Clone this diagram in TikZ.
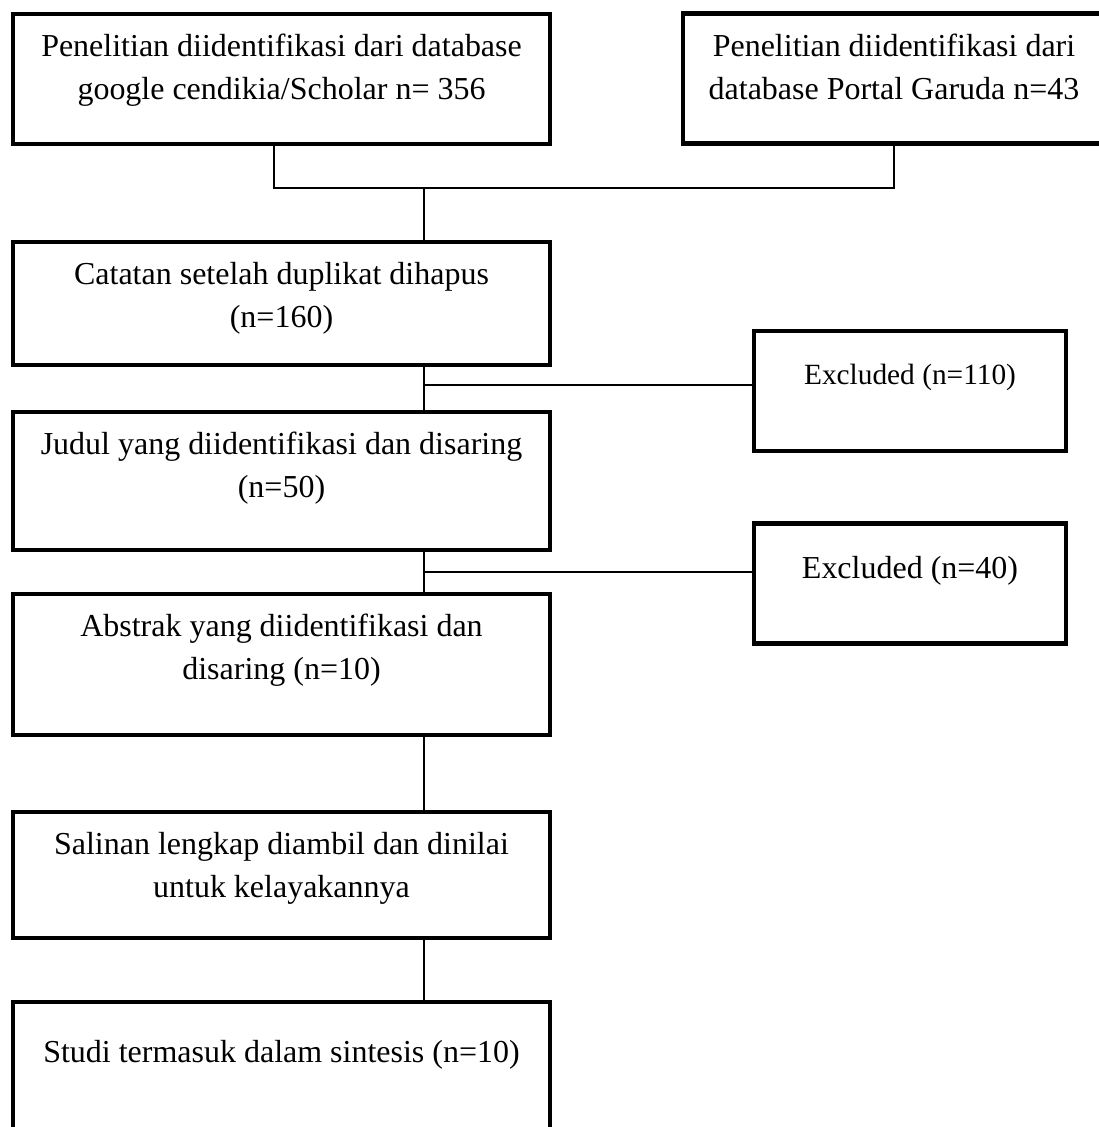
\documentclass[tikz,border=0pt]{standalone}
\usepackage{fontspec}
\setmainfont{Liberation Serif}
\tikzset{
  box/.style={draw,line width=2.3pt,minimum width=10.74cm,inner sep=0pt},
  exbox/.style={draw,line width=2.3pt,minimum width=6.24cm,minimum height=2.4cm,inner sep=0pt},
  txt/.style={anchor=north,align=center,inner sep=0pt,font=\fontsize{18.2}{24.5}\selectfont},
  link/.style={line width=0.85pt}
}
\begin{document}
\begin{tikzpicture}
\useasboundingbox (0,0) rectangle (21.98,-22.54);
\clip (0,0) rectangle (21.98,-22.54);
% boxes
\node[box,minimum height=2.6cm] (src1) at (5.63,-1.58) {};
\node[box,minimum width=8.44cm,minimum height=2.6cm] (src2) at (17.88,-1.57) {};
\node[box,minimum height=2.46cm] (dedup) at (5.63,-6.07) {};
\node[box,minimum height=2.76cm] (title) at (5.63,-9.62) {};
\node[box,minimum height=2.82cm] (abstr) at (5.63,-13.29) {};
\node[box,minimum height=2.53cm] (fulltxt) at (5.63,-17.5) {};
\node[box,minimum height=3cm] (incl) at (5.63,-21.54) {};
\node[exbox] (ex1) at (18.2,-7.82) {};
\node[exbox] (ex2) at (18.2,-11.67) {};
% texts
\node[txt] (t1) at ([yshift=-0.44cm]src1.north) {Penelitian diidentifikasi dari database\\google cendikia/Scholar n= 356};
\node[txt] (t2) at ([yshift=-0.44cm]src2.north) {Penelitian diidentifikasi dari\\database Portal Garuda n=43};
\node[txt] (t3) at ([yshift=-0.44cm]dedup.north) {Catatan setelah duplikat dihapus\\(n=160)};
\node[txt] (t4) at ([yshift=-0.44cm]title.north) {Judul yang diidentifikasi dan disaring\\(n=50)};
\node[txt] (t5) at ([yshift=-0.44cm]abstr.north) {Abstrak yang diidentifikasi dan\\disaring (n=10)};
\node[txt] (t6) at ([yshift=-0.44cm]fulltxt.north) {Salinan lengkap diambil dan dinilai\\untuk kelayakannya};
\node[txt] (t7) at ([yshift=-0.8cm]incl.north) {Studi termasuk dalam sintesis (n=10)};
\node[txt,font=\fontsize{16.7}{22}\selectfont] (t8) at ([yshift=-0.69cm]ex1.north) {Excluded (n=110)};
\node[txt] (t9) at ([yshift=-0.69cm]ex2.north) {Excluded (n=40)};
% connectors
\coordinate (c1) at (5.48,-3.76);
\coordinate (jn) at (8.48,-3.76);
\coordinate (e1) at (8.48,-7.7);
\coordinate (e2) at (8.48,-11.44);
\draw[link] (c1 |- src1.south) -- (c1) -| (src2.south);
\draw[link] (jn) -- (jn |- dedup.north);
\draw[link] (jn |- dedup.south) -- (jn |- title.north);
\draw[link] (e1) -- (e1 -| ex1.west);
\draw[link] (jn |- title.south) -- (jn |- abstr.north);
\draw[link] (e2) -- (e2 -| ex2.west);
\draw[link] (jn |- abstr.south) -- (jn |- fulltxt.north);
\draw[link] (jn |- fulltxt.south) -- (jn |- incl.north);
\end{tikzpicture}
\end{document}
